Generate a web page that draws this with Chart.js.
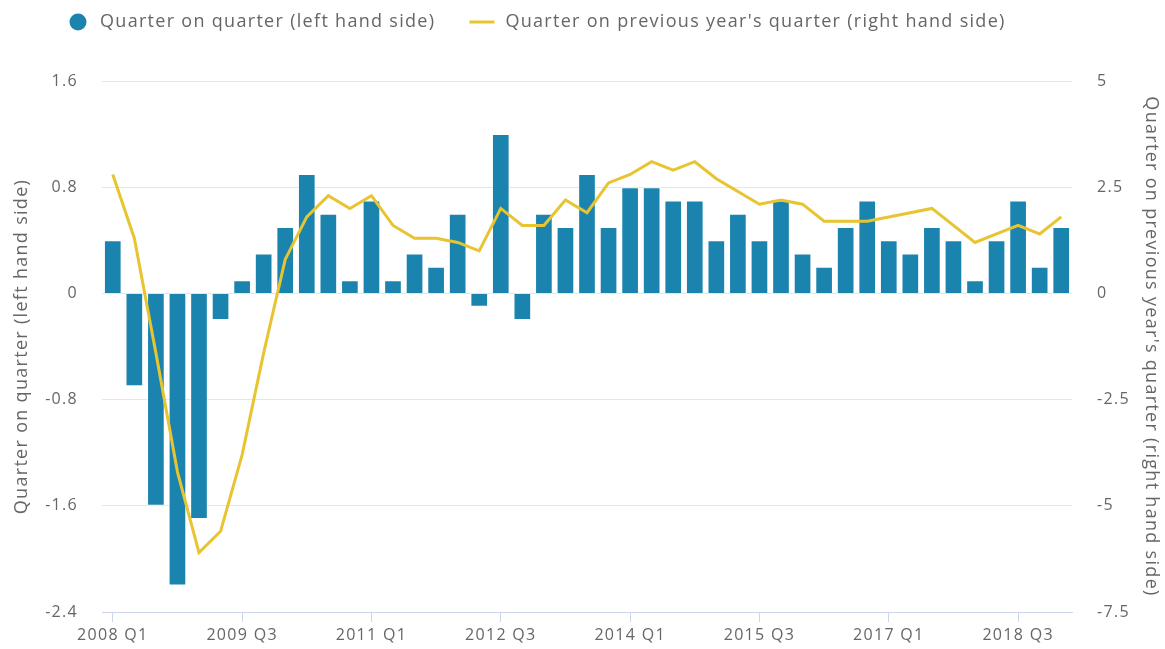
<!DOCTYPE html>
<html>
<head>
<meta charset="utf-8">
<script src="https://cdn.jsdelivr.net/npm/chart.js@4.4.1/dist/chart.umd.min.js"></script>
<style>
  html, body { margin: 0; padding: 0; background: #ffffff; }
  #wrap { width: 1165px; height: 649px; position: relative; }
  canvas { display: block; }
</style>
</head>
<body>
<div id="wrap"><canvas id="c" width="1165" height="649"></canvas></div>
<script>
const categories = [
  '2008 Q1','2008 Q2','2008 Q3','2008 Q4',
  '2009 Q1','2009 Q2','2009 Q3','2009 Q4',
  '2010 Q1','2010 Q2','2010 Q3','2010 Q4',
  '2011 Q1','2011 Q2','2011 Q3','2011 Q4',
  '2012 Q1','2012 Q2','2012 Q3','2012 Q4',
  '2013 Q1','2013 Q2','2013 Q3','2013 Q4',
  '2014 Q1','2014 Q2','2014 Q3','2014 Q4',
  '2015 Q1','2015 Q2','2015 Q3','2015 Q4',
  '2016 Q1','2016 Q2','2016 Q3','2016 Q4',
  '2017 Q1','2017 Q2','2017 Q3','2017 Q4',
  '2018 Q1','2018 Q2','2018 Q3','2018 Q4',
  '2019 Q1'
];
const quarterOnQuarter = [
  0.4, -0.7, -1.6, -2.2, -1.7, -0.2, 0.1, 0.3, 0.5, 0.9,
  0.6, 0.1, 0.7, 0.1, 0.3, 0.2, 0.6, -0.1, 1.2, -0.2,
  0.6, 0.5, 0.9, 0.5, 0.8, 0.8, 0.7, 0.7, 0.4, 0.6,
  0.4, 0.7, 0.3, 0.2, 0.5, 0.7, 0.4, 0.3, 0.5, 0.4,
  0.1, 0.4, 0.7, 0.2, 0.5
];
const quarterOnPrevYear = [
  2.8, 1.3, -1.4, -4.2, -6.1, -5.6, -3.8, -1.4, 0.8, 1.8,
  2.3, 2.0, 2.3, 1.6, 1.3, 1.3, 1.2, 1.0, 2.0, 1.6,
  1.6, 2.2, 1.9, 2.6, 2.8, 3.1, 2.9, 3.1, 2.7, 2.4,
  2.1, 2.2, 2.1, 1.7, 1.7, 1.7, 1.8, 1.9, 2.0, 1.6,
  1.2, 1.4, 1.6, 1.4, 1.8
];
const seriesNames = [
  'Quarter on quarter (left hand side)',
  "Quarter on previous year's quarter (right hand side)"
];
const leftAxisTitle = 'Quarter on quarter (left hand side)';
const rightAxisTitle = "Quarter on previous year's quarter (right hand side)";
const labelEvery = 6;

const BAR_COLOR = '#1b84ae';
const LINE_COLOR = '#e8c430';
const TEXT_COLOR = '#666666';
const FONT = "'Open Sans', 'Noto Sans', sans-serif";
const LETTER_SPACING = '1.3px';

// legend symbols
const BOX_W = 48;
function circleSymbol() {
  const c = document.createElement('canvas');
  c.width = BOX_W; c.height = 18;
  const x = c.getContext('2d');
  x.fillStyle = BAR_COLOR;
  x.beginPath(); x.arc(35, 9, 8.5, 0, Math.PI * 2); x.fill();
  return c;
}
function lineSymbol() {
  const c = document.createElement('canvas');
  c.width = BOX_W; c.height = 4;
  const x = c.getContext('2d');
  x.strokeStyle = LINE_COLOR; x.lineWidth = 3;
  x.beginPath(); x.moveTo(21, 2); x.lineTo(46, 2); x.stroke();
  return c;
}
const symbols = [circleSymbol(), lineSymbol()];

function applySpacing(chart) {
  if (chart.ctx && 'letterSpacing' in chart.ctx) chart.ctx.letterSpacing = LETTER_SPACING;
}

const textTweak = {
  id: 'textTweak',
  afterInit: applySpacing,
  beforeUpdate: applySpacing,
  beforeDraw: applySpacing,
  beforeLayout(chart) {
    applySpacing(chart);
    const lg = chart.legend;
    if (lg && !lg.__patched) {
      const f = lg.fit;
      lg.fit = function () { f.call(this); this.height = 81; };
      lg.__patched = true;
    }
  },
  afterLayout(chart) {
    const lg = chart.legend;
    if (lg) { lg.left += 30; lg.right += 30; }
  }
};

new Chart(document.getElementById('c'), {
  data: {
    labels: categories,
    datasets: [
      {
        type: 'bar',
        label: seriesNames[0],
        data: quarterOnQuarter,
        yAxisID: 'yL',
        backgroundColor: BAR_COLOR,
        borderColor: 'rgba(255,255,255,0.6)',
        borderWidth: 1,
        barPercentage: 0.82,
        categoryPercentage: 1.0,
        order: 1
      },
      {
        type: 'line',
        label: seriesNames[1],
        data: quarterOnPrevYear,
        yAxisID: 'yR',
        borderColor: LINE_COLOR,
        backgroundColor: LINE_COLOR,
        borderWidth: 3,
        pointRadius: 0,
        tension: 0,
        fill: false,
        order: 0
      }
    ]
  },
  options: {
    responsive: false,
    maintainAspectRatio: false,
    devicePixelRatio: 1,
    animation: false,
    layout: { padding: 0 },
    plugins: {
      tooltip: { enabled: false },
      legend: {
        position: 'top',
        align: 'start',
        labels: {
          usePointStyle: true,
          pointStyleWidth: BOX_W,
          padding: 13,
          color: TEXT_COLOR,
          font: { family: FONT, size: 18 },
          generateLabels: () => seriesNames.map((t, i) => ({
            text: t,
            pointStyle: symbols[i],
            fillStyle: i === 0 ? BAR_COLOR : LINE_COLOR,
            strokeStyle: i === 0 ? BAR_COLOR : LINE_COLOR,
            lineWidth: 0,
            hidden: false,
            datasetIndex: i,
            fontColor: TEXT_COLOR
          }))
        }
      }
    },
    scales: {
      x: {
        type: 'category',
        offset: true,
        afterFit: (s) => { s.height = 37; },
        grid: {
          offset: false,
          drawOnChartArea: false,
          drawTicks: true,
          tickLength: 10,
          color: (ctx) => (ctx.index % labelEvery === 0 ? '#ccd6eb' : 'rgba(0,0,0,0)'),
          lineWidth: 1
        },
        border: { display: true, color: '#ccd6eb', width: 1 },
        ticks: {
          autoSkip: false,
          maxRotation: 0,
          minRotation: 0,
          padding: 4,
          color: TEXT_COLOR,
          font: { family: FONT, size: 16 },
          callback: function (v, i) { return i % labelEvery === 0 ? categories[i] : ''; }
        }
      },
      yL: {
        type: 'linear',
        position: 'left',
        min: -2.4,
        max: 1.6,
        afterFit: (s) => { s.width = 102; },
        ticks: {
          stepSize: 0.8,
          padding: 24,
          color: TEXT_COLOR,
          font: { family: FONT, size: 16 }
        },
        grid: { color: '#e6e6e6', lineWidth: 1, drawTicks: false },
        border: { display: false },
        title: {
          display: true,
          text: leftAxisTitle,
          color: TEXT_COLOR,
          font: { family: FONT, size: 18 },
          padding: { top: 11, bottom: 0 }
        }
      },
      yR: {
        type: 'linear',
        position: 'right',
        min: -7.5,
        max: 5,
        afterFit: (s) => { s.width = 93; },
        ticks: {
          stepSize: 2.5,
          padding: 25,
          color: TEXT_COLOR,
          font: { family: FONT, size: 16 }
        },
        grid: { drawOnChartArea: false, drawTicks: false },
        border: { display: false },
        title: {
          display: true,
          text: rightAxisTitle,
          color: TEXT_COLOR,
          font: { family: FONT, size: 18 },
          padding: { top: 3, bottom: 0 }
        }
      }
    }
  },
  plugins: [textTweak]
});
</script>
</body>
</html>
